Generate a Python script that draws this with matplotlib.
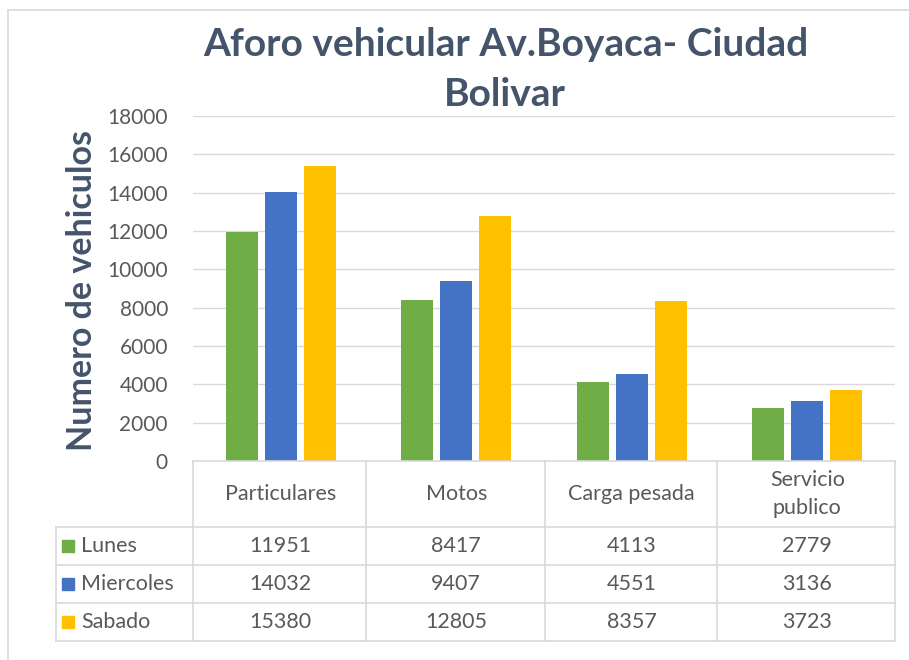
import numpy as np
import matplotlib
matplotlib.use('Agg')
import matplotlib.pyplot as plt
from matplotlib.lines import Line2D
from matplotlib.patches import Rectangle
from matplotlib.transforms import blended_transform_factory

# data
categories = ['Particulares', 'Motos', 'Carga pesada', 'Servicio\npublico']
days = ['Lunes', 'Miercoles', 'Sabado']
lunes = [11951, 8417, 4113, 2779]
miercoles = [14032, 9407, 4551, 3136]
sabado = [15380, 12805, 8357, 3723]
yticks = np.arange(0, 18001, 2000)

series = [lunes, miercoles, sabado]
colors = ['#70AD47', '#4472C4', '#FFC000']
grid_c = '#D9D9D9'
txt_c = '#595959'
title_c = '#44546A'

plt.rcParams['font.family'] = ['Lato', 'DejaVu Sans']

W, H = 909, 660
fig = plt.figure(figsize=(W / 100, H / 100), dpi=100)


def fx(px):
    return px / W


def fy(py):
    return 1 - py / H


# chart area border (left / top)
fig.add_artist(Line2D([fx(8), fx(8)], [fy(10), 0], color=grid_c, lw=1.2))
fig.add_artist(Line2D([fx(8), 1], [fy(10), fy(10)], color=grid_c, lw=1.2))

ax = fig.add_axes([fx(193), fy(461), fx(895) - fx(193), fy(116) - fy(461)])
x = np.arange(len(categories))
bw = 0.18
step = 0.222
for i, (vals, c) in enumerate(zip(series, colors)):
    ax.bar(x + (i - 1) * step, vals, bw, color=c, zorder=3)
ax.set_xlim(-0.5, len(categories) - 0.5)
ax.set_ylim(0, 18000)
ax.set_yticks(yticks)
ax.yaxis.grid(True, color=grid_c, lw=1)
ax.set_axisbelow(True)
ax.set_xticks([])
for s in ax.spines.values():
    s.set_visible(False)
ax.tick_params(axis='y', length=0, pad=18, labelsize=15, labelcolor=txt_c)

# title and axis label
fig.text(fx(506), fy(45), 'Aforo vehicular Av.Boyaca- Ciudad', ha='center', va='center',
         fontsize=28, fontweight='bold', color=title_c)
fig.text(fx(505), fy(95), 'Bolivar', ha='center', va='center',
         fontsize=28, fontweight='bold', color=title_c)
fig.text(fx(82), fy(290), 'Numero de vehiculos', rotation=90, ha='center', va='center',
         fontsize=24.5, fontweight='bold', color=title_c)

# data table
tr = blended_transform_factory(ax.transData, fig.transFigure)
rows_y = [461, 527, 565, 603, 641]
col_x = [193, 366, 545, 717, 895]
for py in rows_y:
    x0 = 193 if py == 461 else 56
    fig.add_artist(Line2D([fx(x0), fx(895)], [fy(py), fy(py)], color=grid_c, lw=1.2))
for px in col_x:
    fig.add_artist(Line2D([fx(px), fx(px)], [fy(461), fy(641)], color=grid_c, lw=1.2))
fig.add_artist(Line2D([fx(56), fx(56)], [fy(527), fy(641)], color=grid_c, lw=1.2))

for i, cat in enumerate(categories):
    ax.text(i, fy(494), cat, transform=tr, ha='center', va='center', fontsize=15.5,
            color=txt_c, linespacing=1.45)

for r, (day, vals, c) in enumerate(zip(days, series, colors)):
    cy = (rows_y[r + 1] + rows_y[r + 2]) / 2
    fig.patches.append(Rectangle((fx(62), fy(cy + 6)), fx(12), 12 / H, color=c,
                                 transform=fig.transFigure))
    fig.text(fx(81), fy(cy), day, ha='left', va='center', fontsize=15.5, color=txt_c)
    for i, v in enumerate(vals):
        ax.text(i, fy(cy), str(v), transform=tr, ha='center', va='center', fontsize=15.5,
                color=txt_c)

fig.savefig('out.png', dpi=100)
